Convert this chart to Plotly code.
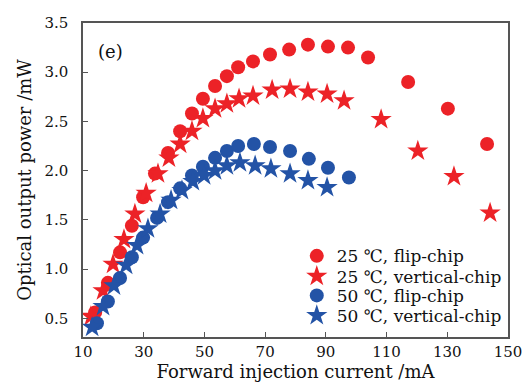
import plotly.graph_objects as go

# 25 C flip-chip
x_25f = [14.0, 18.2, 22.2, 26.1, 29.8, 33.7, 38.0, 42.0, 45.9, 49.5, 53.5, 57.4, 61.1, 66.0, 71.6, 77.9, 84.1, 90.7, 97.3, 103.9, 117.1, 130.2, 143.1]
y_25f = [0.56, 0.86, 1.17, 1.44, 1.73, 1.97, 2.18, 2.40, 2.58, 2.73, 2.86, 2.96, 3.05, 3.11, 3.18, 3.23, 3.28, 3.26, 3.25, 3.15, 2.90, 2.63, 2.27]
# 25 C vertical-chip
x_25v = [12.6, 16.6, 19.9, 23.5, 27.1, 30.8, 34.7, 38.3, 42.0, 45.9, 49.5, 53.5, 57.4, 61.4, 66.0, 72.3, 78.2, 84.1, 90.4, 96.0, 108.2, 120.3, 132.2, 144.1]
y_25v = [0.52, 0.78, 1.05, 1.30, 1.56, 1.77, 1.97, 2.13, 2.27, 2.40, 2.53, 2.63, 2.68, 2.73, 2.76, 2.82, 2.83, 2.80, 2.78, 2.71, 2.52, 2.20, 1.94, 1.57]
# 50 C flip-chip
x_50f = [14.6, 18.2, 22.2, 26.1, 29.8, 34.4, 38.0, 42.0, 45.9, 49.5, 53.5, 57.4, 61.1, 66.3, 71.6, 78.2, 84.4, 90.7, 97.6]
y_50f = [0.45, 0.67, 0.91, 1.12, 1.32, 1.52, 1.68, 1.82, 1.95, 2.04, 2.13, 2.20, 2.25, 2.27, 2.24, 2.20, 2.12, 2.03, 1.93]
# 50 C vertical-chip
x_50v = [13.0, 16.6, 20.2, 24.2, 27.8, 31.4, 35.4, 39.0, 42.6, 46.2, 49.9, 53.5, 57.4, 61.7, 66.7, 71.9, 78.2, 84.1, 90.4]
y_50v = [0.41, 0.62, 0.83, 1.04, 1.24, 1.41, 1.56, 1.70, 1.80, 1.89, 1.95, 2.00, 2.05, 2.08, 2.05, 2.02, 1.97, 1.90, 1.83]

names = ["25 ℃, flip-chip", "25 ℃, vertical-chip", "50 ℃, flip-chip", "50 ℃, vertical-chip"]
x_ticks = [10, 30, 50, 70, 90, 110, 130, 150]
y_ticks = [0.5, 1.0, 1.5, 2.0, 2.5, 3.0, 3.5]

RED = "#EC2227"
BLUE = "#2353A6"
FONT = "DejaVu Serif"

fig = go.Figure()
series = [
    (x_25f, y_25f, names[0], RED, "circle", 14, "legend"),
    (x_25v, y_25v, names[1], RED, "star", 16, "legend2"),
    (x_50f, y_50f, names[2], BLUE, "circle", 14, "legend3"),
    (x_50v, y_50v, names[3], BLUE, "star", 16, "legend4"),
]
for xs, ys, nm, col, sym, sz, lg in series:
    fig.add_trace(go.Scatter(x=xs, y=ys, name=nm, mode="markers", legend=lg,
                             marker=dict(color=col, symbol=sym, size=sz, line=dict(width=0))))

leg_y = [0.257, 0.192, 0.131, 0.067]
legs = {}
for i, key in enumerate(["legend", "legend2", "legend3", "legend4"]):
    legs[key] = dict(x=0.503, xanchor="left", y=leg_y[i], yanchor="middle",
                     bgcolor="rgba(0,0,0,0)", font=dict(size=17, family=FONT),
                     itemwidth=30, borderwidth=0)

fig.update_layout(
    width=523, height=387,
    margin=dict(l=83, r=15, t=23, b=50, autoexpand=False),
    paper_bgcolor="white", plot_bgcolor="white",
    font=dict(family=FONT, size=15, color="#111"),
    showlegend=True,
    **legs,
)
fig.update_xaxes(range=[10, 150], tickvals=x_ticks, ticks="inside", ticklen=5,
                 showline=True, linecolor="#555", linewidth=1.5, mirror=True,
                 showgrid=False, zeroline=False, tickcolor="#555",
                 title=dict(text="Forward injection current /mA", standoff=4, font=dict(size=18)))
fig.update_yaxes(range=[0.31, 3.5], tickvals=y_ticks, tickformat=".1f", ticks="inside", ticklen=5,
                 showline=True, linecolor="#555", linewidth=1.5, mirror=True,
                 showgrid=False, zeroline=False, tickcolor="#555", ticklabelstandoff=10,
                 title=dict(text="Optical output power /mW", standoff=8, font=dict(size=18)))
fig.add_annotation(text="(e)", xref="paper", yref="paper", x=0.03, y=0.95,
                   xanchor="left", yanchor="top", showarrow=False, font=dict(size=18, family=FONT))

fig.write_html("out.html")
